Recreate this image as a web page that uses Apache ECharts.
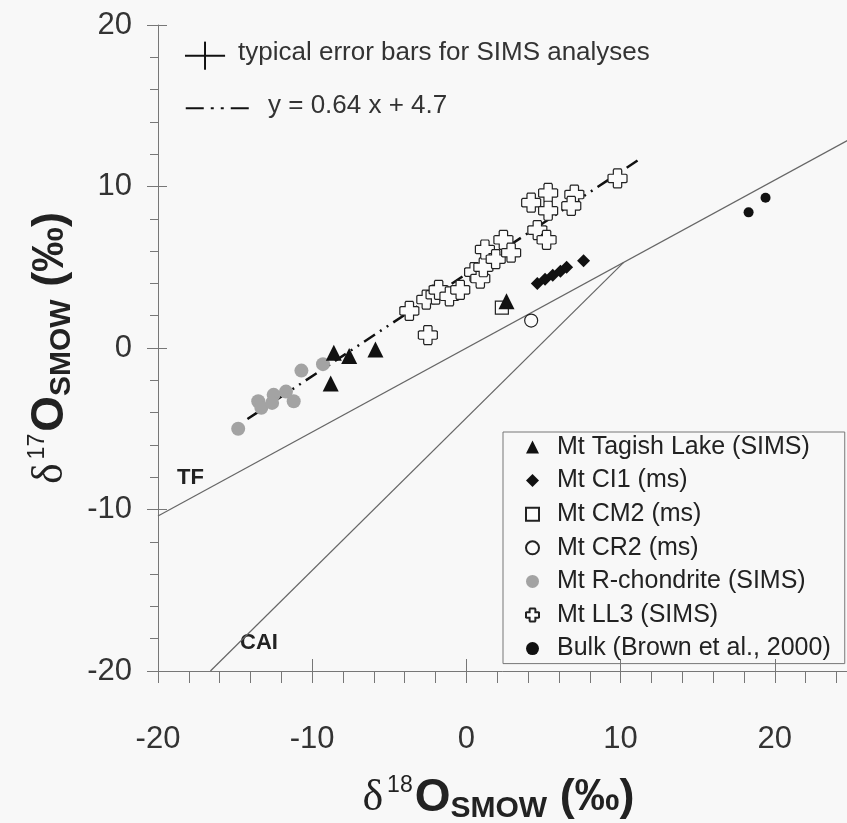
<!DOCTYPE html>
<html>
<head>
<meta charset="utf-8">
<script src="https://cdn.jsdelivr.net/npm/echarts@6/dist/echarts.min.js"></script>
</head>
<body style="margin:0;background:#f8f8f8">
<div id="container" style="width:847px;height:823px"></div>
<script>
// ---- data (delta18O, delta17O in permil) ----
var tagishX = [-8.6, -7.6, -5.9, -8.8, 2.6];
var tagishY = [-0.3, -0.5, -0.1, -2.2, 2.9];

var ci1X = [4.6, 5.1, 5.6, 6.1, 6.5, 7.6];
var ci1Y = [4.0, 4.25, 4.5, 4.75, 5.0, 5.4];

var cm2X = [2.3];
var cm2Y = [2.5];

var cr2X = [4.2];
var cr2Y = [1.7];

var rchX = [-14.8, -13.5, -13.3, -12.5, -12.6, -11.7, -11.2, -10.7, -9.3];
var rchY = [-5.0, -3.3, -3.7, -2.9, -3.4, -2.7, -3.3, -1.4, -1.0];

var ll3X = [-3.7, -2.5, -2.6, -2.0, -1.8, -1.1, -0.4, 0.5, 0.9, 1.1, 1.2, 1.9, 2.4, 2.9, 4.2, 5.3, 5.3, 4.6, 5.2, 7.0, 6.8, 9.8];
var ll3Y = [2.3, 0.8, 3.0, 3.3, 3.6, 3.2, 3.6, 4.7, 4.3, 5.0, 6.1, 5.5, 6.7, 5.9, 9.0, 9.6, 8.5, 7.3, 6.7, 9.5, 8.8, 10.5];

var bulkX = [18.3, 19.4];
var bulkY = [8.4, 9.3];

// reference lines: end points
var tfLine = [[-20, -10.4], [25, 13.0]];
var caiLine = [[-16.6, -20], [10.2, 5.3]];
var fitLine = [[-14.2, -4.4], [11.4, 11.8]];

// key: error bar (centre and half widths) and dash-dot sample
var errBar = { x: -16.95, y: 18.1, dx: 1.3, dy: 0.87 };
var keySample = [[-18.2, 14.85], [-14.1, 14.85]];

var xTicks = { min: -20, max: 30, interval: 10 };
var yTicks = { min: -20, max: 20, interval: 10 };

function zip(xs, ys) {
	var arr = [];
	for (var i = 0; i < xs.length; i++) {
		arr.push([xs[i], ys[i]]);
	}
	return arr;
}

var crossPath = 'path://M3.2,0 L6.8,0 L7.2,0.6 L7.2,2.8 L9.4,2.8 L10,3.2 L10,6.8 L9.4,7.2 L7.2,7.2 L7.2,9.4 L6.8,10 L3.2,10 L2.8,9.4 L2.8,7.2 L0.6,7.2 L0,6.8 L0,3.2 L0.6,2.8 L2.8,2.8 L2.8,0.6 Z';

var font = 'Liberation Sans';
var ink = '#222';
var axisGray = '#777';

var titleRich = {
	d: { fontFamily: 'Liberation Serif', fontSize: 44, lineHeight: 52, color: ink },
	sup: { fontFamily: font, fontSize: 23, lineHeight: 23, verticalAlign: 'top', padding: [2, 2, 0, 4], color: ink },
	o: { fontFamily: font, fontWeight: 'bold', fontSize: 46, lineHeight: 52, color: ink },
	sub: { fontFamily: font, fontWeight: 'bold', fontSize: 30, lineHeight: 30, verticalAlign: 'bottom', color: ink },
	p: { fontFamily: font, fontWeight: 'bold', fontSize: 45, lineHeight: 52, color: ink }
};

var dom = document.getElementById('container');
var myChart = echarts.init(dom);

var option = {
	backgroundColor: '#f8f8f8',
	animation: false,
	grid: { left: 158, top: 25, bottom: 152, right: -82, outerBoundsMode: 'none', containLabel: false },
	xAxis: [{
		type: 'value', position: 'bottom', min: xTicks.min, max: xTicks.max, interval: xTicks.interval,
		axisLine: { onZero: false, lineStyle: { color: axisGray, width: 1 } },
		axisTick: { length: 12, lineStyle: { color: axisGray } },
		minorTick: { show: true, splitNumber: 5, length: 12, lineStyle: { color: axisGray } },
		splitLine: { show: false },
		axisLabel: { fontFamily: font, fontSize: 31, color: '#333', margin: 53 },
		name: '{d|δ}{sup|18}{o|O}{sub|SMOW}{p| (‰)}',
		nameLocation: 'middle', nameGap: 101,
		nameTextStyle: { rich: titleRich, padding: [0, 90, 0, 0] }
	}, {
		type: 'value', position: 'bottom', min: xTicks.min, max: xTicks.max, interval: xTicks.interval,
		axisLine: { show: false, onZero: false },
		axisTick: { inside: true, length: 12, lineStyle: { color: axisGray } },
		axisLabel: { show: false },
		splitLine: { show: false }
	}],
	yAxis: [{
		type: 'value', position: 'left', min: yTicks.min, max: yTicks.max, interval: yTicks.interval,
		axisLine: { show: true, onZero: false, lineStyle: { color: axisGray, width: 1 } },
		axisTick: { show: true, length: 11, lineStyle: { color: axisGray } },
		minorTick: { show: true, splitNumber: 5, length: 8, lineStyle: { color: axisGray } },
		splitLine: { show: false },
		axisLabel: { fontFamily: font, fontSize: 31, color: '#333', margin: 26 },
		name: '{d|δ}{sup|17}{o|O}{sub|SMOW}{p| (‰)}',
		nameLocation: 'middle', nameRotate: 90, nameGap: 68,
		nameTextStyle: { rich: titleRich }
	}, {
		type: 'value', position: 'left', min: yTicks.min, max: yTicks.max, interval: yTicks.interval,
		axisLine: { show: false, onZero: false },
		axisTick: { show: true, inside: true, length: 9, lineStyle: { color: axisGray } },
		axisLabel: { show: false },
		splitLine: { show: false }
	}],
	legend: {
		orient: 'vertical', left: 503, top: 432,
		padding: [2, 14, 2, 22],
		itemWidth: 13, itemHeight: 13, itemGap: 7.6,
		borderColor: axisGray, borderWidth: 1,
		textStyle: { fontFamily: font, fontSize: 25, color: ink, lineHeight: 26, padding: [0, 0, 0, 13] },
		data: ['Mt Tagish Lake (SIMS)', 'Mt CI1 (ms)', 'Mt CM2 (ms)', 'Mt CR2 (ms)',
			'Mt R-chondrite (SIMS)', 'Mt LL3 (SIMS)', 'Bulk (Brown et al., 2000)']
	},
	graphic: [
		{ type: 'text', left: 238, top: 40, style: { text: 'typical error bars for SIMS analyses', font: '26px "Liberation Sans"', fill: '#333' } },
		{ type: 'text', left: 268, top: 93, style: { text: 'y = 0.64 x + 4.7', font: '26px "Liberation Sans"', fill: '#333' } },
		{ type: 'text', left: 177, top: 467, style: { text: 'TF', font: 'bold 22px "Liberation Sans"', fill: ink } },
		{ type: 'text', left: 240, top: 632, style: { text: 'CAI', font: 'bold 22px "Liberation Sans"', fill: ink } }
	],
	series: [
		{ type: 'line', data: tfLine, symbol: 'none', silent: true, z: 1, lineStyle: { color: '#666', width: 1.2 } },
		{ type: 'line', data: caiLine, symbol: 'none', silent: true, z: 1, lineStyle: { color: '#666', width: 1.2 } },
		{ type: 'line', data: fitLine, symbol: 'none', silent: true, z: 1, lineStyle: { color: '#111', width: 2.5, type: [13, 6, 2, 6, 2, 6] } },
		{ type: 'line', data: keySample, symbol: 'none', silent: true, z: 1, lineStyle: { color: '#111', width: 2, type: [18, 7, 3, 7, 3, 7] } },
		{ type: 'line', data: [[errBar.x - errBar.dx, errBar.y], [errBar.x + errBar.dx, errBar.y]], symbol: 'none', silent: true, lineStyle: { color: '#111', width: 2 } },
		{ type: 'line', data: [[errBar.x, errBar.y - errBar.dy], [errBar.x, errBar.y + errBar.dy]], symbol: 'none', silent: true, lineStyle: { color: '#111', width: 2 } },
		{ name: 'Mt R-chondrite (SIMS)', type: 'scatter', data: zip(rchX, rchY), symbol: 'circle', symbolSize: 14, z: 3,
			itemStyle: { color: '#a3a3a3', opacity: 1 } },
		{ name: 'Mt LL3 (SIMS)', type: 'scatter', data: zip(ll3X, ll3Y), symbol: crossPath, symbolSize: 19, z: 3,
			itemStyle: { color: '#fbfbfb', borderColor: ink, borderWidth: 1.2, opacity: 1 } },
		{ name: 'Mt CM2 (ms)', type: 'scatter', data: zip(cm2X, cm2Y), symbol: 'rect', symbolSize: 13, z: 3,
			itemStyle: { color: '#fbfbfb', borderColor: ink, borderWidth: 1.2, opacity: 1 } },
		{ name: 'Mt Tagish Lake (SIMS)', type: 'scatter', data: zip(tagishX, tagishY), symbol: 'triangle', symbolSize: 16, z: 4,
			itemStyle: { color: '#111', opacity: 1 } },
		{ name: 'Mt CI1 (ms)', type: 'scatter', data: zip(ci1X, ci1Y), symbol: 'diamond', symbolSize: 13, z: 4,
			itemStyle: { color: '#111', opacity: 1 } },
		{ name: 'Mt CR2 (ms)', type: 'scatter', data: zip(cr2X, cr2Y), symbol: 'circle', symbolSize: 13, z: 4,
			itemStyle: { color: '#fbfbfb', borderColor: ink, borderWidth: 1.2, opacity: 1 } },
		{ name: 'Bulk (Brown et al., 2000)', type: 'scatter', data: zip(bulkX, bulkY), symbol: 'circle', symbolSize: 10, z: 4,
			itemStyle: { color: '#111', opacity: 1 } }
	]
};

myChart.setOption(option);
</script>
</body>
</html>
